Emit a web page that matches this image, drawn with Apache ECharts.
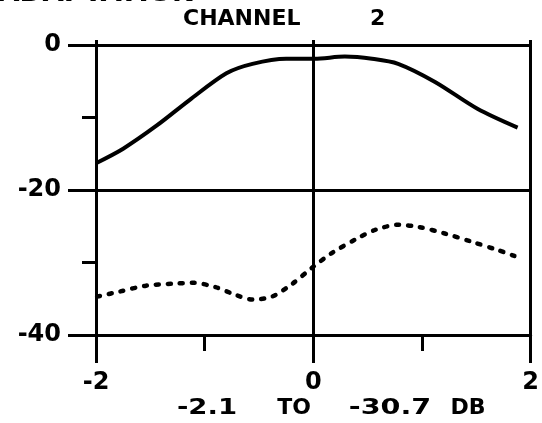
<!DOCTYPE html>
<html><head><meta charset="utf-8">
<script src="https://cdn.jsdelivr.net/npm/echarts@6/dist/echarts.min.js"></script>
<style>html,body{margin:0;padding:0;background:#fff}#c{width:542px;height:423px}</style>
</head><body><div id="c"></div>
<script>
const solidX = [-2.0, -1.75, -1.44, -1.14, -0.80, -0.56, -0.25, 0.01, 0.29, 0.54, 0.78, 1.12, 1.51, 1.88];
const solidY = [-16.3, -14.3, -11.1, -7.6, -3.9, -2.6, -1.9, -1.9, -1.6, -1.9, -2.6, -5.1, -8.8, -11.4];
const dottedX = [-1.99, -1.78, -1.54, -1.26, -1.11, -0.90, -0.71, -0.56, -0.38, -0.19, -0.01, 0.17, 0.39, 0.57, 0.78, 0.97, 1.21, 1.45, 1.70, 1.85];
const dottedY = [-34.7, -34.0, -33.2, -32.9, -32.8, -33.4, -34.5, -35.1, -34.7, -32.9, -30.7, -28.7, -26.8, -25.5, -24.8, -25.1, -26.0, -27.1, -28.3, -29.1];
const titleTop = "R ADAPTATION";
const titleMain = "CHANNEL";
const titleNum = "2";
const footer = ["-2.1", "TO", "-30.7", "DB"];

const FONT = '"DejaVu Sans", sans-serif';
const solid = solidX.map((x, i) => [x, solidY[i]]);
const dotted = dottedX.map((x, i) => [x, dottedY[i]]);
const chart = echarts.init(document.getElementById('c'), null, {renderer: 'canvas'});
const txt = (text, x, y, align, sx) => ({
  type: 'text', x: x, y: y, scaleX: sx || 1.25,
  style: {text: text, fill: '#000', font: 'bold 22px ' + FONT, textAlign: align, textVerticalAlign: 'bottom'}
});
chart.setOption({
  animation: false,
  backgroundColor: '#fff',
  grid: {left: 96, right: 9, top: 45, bottom: 88},
  xAxis: [{
    type: 'value', min: -2, max: 2, interval: 2, position: 'bottom',
    axisLine: {show: true, onZero: false, lineStyle: {color: '#000', width: 3}},
    axisTick: {show: true, length: 28, lineStyle: {color: '#000', width: 3}},
    minorTick: {show: true, splitNumber: 2, length: 16, lineStyle: {color: '#000', width: 3}},
    splitLine: {show: true, lineStyle: {color: '#000', width: 3}},
    axisLabel: {color: '#000', fontFamily: FONT, fontWeight: 'bold', fontSize: 24, margin: 36, formatter: v => String(v)}
  }, {
    type: 'value', min: -2, max: 2, interval: 2, position: 'top',
    axisLine: {show: false},
    axisTick: {show: true, length: 5, lineStyle: {color: '#000', width: 3}},
    axisLabel: {show: false}, splitLine: {show: false}
  }],
  yAxis: {
    type: 'value', min: -40, max: 0, interval: 20,
    axisLine: {show: true, onZero: false, lineStyle: {color: '#000', width: 3}},
    axisTick: {show: true, length: 28, lineStyle: {color: '#000', width: 3}},
    minorTick: {show: true, splitNumber: 2, length: 14, lineStyle: {color: '#000', width: 3}},
    splitLine: {show: true, lineStyle: {color: '#000', width: 3}},
    axisLabel: {color: '#000', fontFamily: FONT, fontWeight: 'bold', fontSize: 24, margin: 35}
  },
  series: [{
    type: 'line', data: solid, smooth: 0.3, showSymbol: false, symbol: 'none',
    lineStyle: {color: '#000', width: 4}
  }, {
    type: 'line', data: dotted, smooth: 0.3, showSymbol: false, symbol: 'none',
    lineStyle: {color: '#000', width: 4.5, type: [3, 9], cap: 'round'}
  }],
  graphic: [
    txt(titleTop, 195, 6, 'right'),
    txt(titleMain, 183, 30, 'left', 1.0),
    txt(titleNum, 370, 30, 'left', 1.0),
    txt(footer[0], 207, 419, 'center', 1.25),
    txt(footer[1], 294, 419, 'center', 1.0),
    txt(footer[2], 390, 419, 'center', 1.3),
    txt(footer[3], 468, 419, 'center', 1.0)
  ]
});
</script></body></html>
